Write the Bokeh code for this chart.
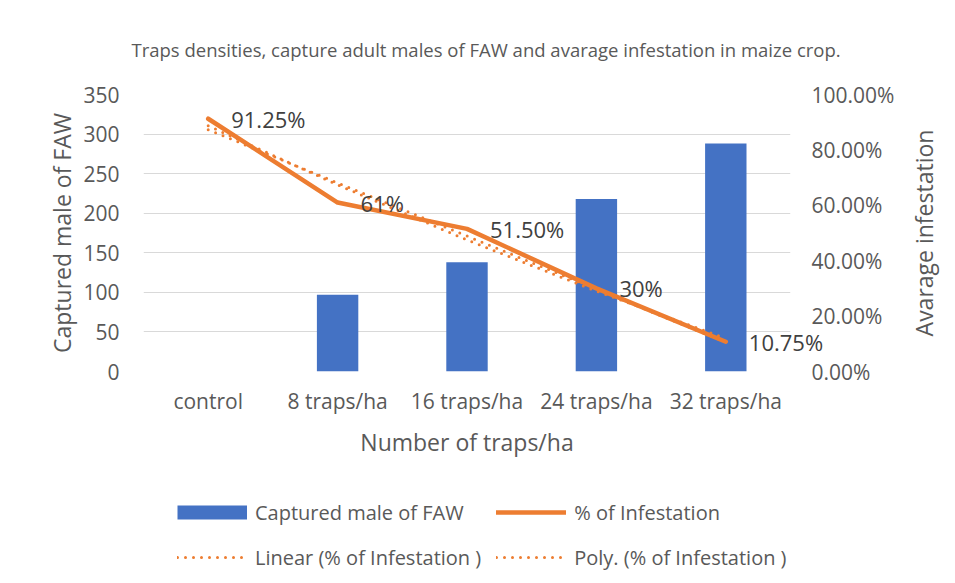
import math
from bokeh.plotting import figure
from bokeh.layouts import column
from bokeh.models import (FactorRange, Range1d, LinearAxis, FixedTicker,
                          NumeralTickFormatter, Legend, LegendItem)
from bokeh.core.properties import value
from bokeh.embed import file_html
from bokeh.resources import INLINE

# ---- data ----
categories = ["control", "8 traps/ha", "16 traps/ha", "24 traps/ha", "32 traps/ha"]
captured_males = [0, 97, 138, 218, 288]
infestation = [0.9125, 0.61, 0.515, 0.30, 0.1075]
infestation_labels = ["91.25%", "61%", "51.50%", "30%", "10.75%"]
linear_trend = [0.873, 0.681, 0.489, 0.297, 0.105]
poly_trend = [0.887, 0.674, 0.475, 0.290, 0.119]
left_ticks = [0, 50, 100, 150, 200, 250, 300, 350]
right_ticks = [0.0, 0.2, 0.4, 0.6, 0.8, 1.0]
legend_labels = ["Captured male of FAW", "% of Infestation",
                 "Linear (% of Infestation )", "Poly. (% of Infestation )"]

FONT = "Open Sans"
TXT = "#595959"
BLUE = "#4472C4"
ORANGE = "#ED7D31"
DOTS = "0 8"

p = figure(x_range=FactorRange(*categories), y_range=Range1d(0, 350),
           frame_width=647, frame_height=277,
           min_border_left=143, min_border_right=157,
           min_border_top=94, min_border_bottom=110,
           output_backend="svg", toolbar_location=None,
           background_fill_color="white", border_fill_color="white")
p.outline_line_color = None
p.extra_y_ranges = {"pct": Range1d(0, 1)}

# title
p.title.text = "Traps densities, capture adult males of FAW and avarage infestation  in maize crop."
p.title.align = "left"
p.title.offset = -12
p.title.standoff = 66
p.title.text_font = FONT
p.title.text_font_size = "18.5px"
p.title.text_font_style = "normal"
p.title.text_color = TXT

# bars
p.vbar(x=categories, top=captured_males, width=0.32, fill_color=BLUE, line_color=None)

# lines
p.line(x=categories, y=infestation, y_range_name="pct", line_color=ORANGE,
       line_width=4.5, line_cap="round", line_join="round")
p.line(x=categories, y=linear_trend, y_range_name="pct", line_color=ORANGE,
       line_width=3, line_dash=DOTS, line_cap="round")
p.line(x=categories, y=poly_trend, y_range_name="pct", line_color=ORANGE,
       line_width=3, line_dash=DOTS, line_cap="round")

# data labels (overlay level so they are not cut at the plot frame)
p.text(x=categories, y=infestation, text=infestation_labels, y_range_name="pct",
       x_offset=23, text_baseline="middle", text_align="left", level="overlay",
       text_font=value(FONT), text_font_size="22px", text_color="#404040")

# axes
for ax in [p.xaxis[0], p.yaxis[0]]:
    ax.axis_line_color = None
    ax.major_tick_line_color = None
    ax.minor_tick_line_color = None
    ax.major_tick_out = 0
    ax.major_label_text_font = FONT
    ax.major_label_text_font_size = "21px"
    ax.major_label_text_color = TXT
    ax.axis_label_text_font = FONT
    ax.axis_label_text_font_size = "23px"
    ax.axis_label_text_font_style = "normal"
    ax.axis_label_text_color = TXT

p.yaxis[0].ticker = FixedTicker(ticks=left_ticks)
p.yaxis[0].axis_label = "Captured male of FAW"
p.yaxis[0].major_label_standoff = 24
p.yaxis[0].axis_label_standoff = 2
p.xaxis[0].axis_label = "Number of traps/ha"
p.xaxis[0].major_label_standoff = 15
p.xaxis[0].axis_label_standoff = 8

right = LinearAxis(y_range_name="pct", ticker=FixedTicker(ticks=right_ticks),
                   formatter=NumeralTickFormatter(format="0.00%"))
right.axis_line_color = None
right.major_tick_line_color = None
right.minor_tick_line_color = None
right.major_tick_out = 0
right.major_label_standoff = 21
right.major_label_text_font = FONT
right.major_label_text_font_size = "21px"
right.major_label_text_color = TXT
p.add_layout(right, "right")

# right axis title, reading bottom-to-top like the original
p.text(x=[categories[-1]], y=[0.5], text=["Avarage infestation"], y_range_name="pct",
       x_offset=198, angle=math.pi / 2, text_align="center", text_baseline="middle",
       level="overlay", text_font=value(FONT), text_font_size="23px", text_color=TXT)

p.xgrid.grid_line_color = None
p.ygrid.grid_line_color = "#D9D9D9"
p.ygrid.grid_line_width = 1

# ---- legend strip below the chart ----
lf = figure(width=947, height=94, x_range=Range1d(0, 1), y_range=Range1d(0, 1),
            min_border=0, title=None, x_axis_location=None, y_axis_location=None,
            output_backend="svg", toolbar_location=None,
            background_fill_color="white", border_fill_color="white")
lf.outline_line_color = None
lf.grid.visible = False
off = [5, 6]  # swatch renderers kept outside the visible range
k_bar = lf.line(x=off, y=off, line_color=BLUE, line_width=14, line_cap="butt")
k_line = lf.line(x=off, y=off, line_color=ORANGE, line_width=4.5, line_cap="round")
k_lin = lf.line(x=off, y=off, line_color=ORANGE, line_width=3, line_dash=DOTS, line_cap="round")
k_poly = lf.line(x=off, y=off, line_color=ORANGE, line_width=3, line_dash=DOTS, line_cap="round")

legend = Legend(items=[
    LegendItem(label=legend_labels[0], renderers=[k_bar]),
    LegendItem(label=legend_labels[1], renderers=[k_line]),
    LegendItem(label=legend_labels[2], renderers=[k_lin]),
    LegendItem(label=legend_labels[3], renderers=[k_poly]),
], orientation="horizontal", nrows=2, location=(34, 3))
legend.margin = 0
legend.padding = 0
legend.spacing = 15
legend.glyph_width = 70
legend.glyph_height = 30
legend.label_standoff = 8
legend.label_height = 30
legend.label_text_font = FONT
legend.label_text_font_size = "20px"
legend.label_text_color = TXT
legend.border_line_color = None
legend.background_fill_alpha = 0
lf.add_layout(legend, "center")

open("out.html", "w").write(file_html(column(p, lf), INLINE))
